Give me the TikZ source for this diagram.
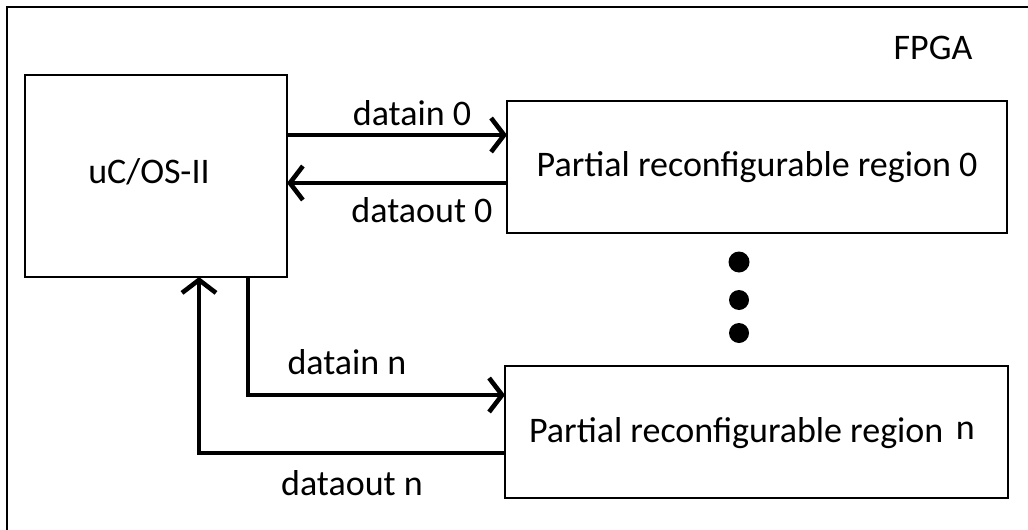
\documentclass[tikz,border=0pt]{standalone}
\usepackage{fontspec}
\setmainfont{Carlito}
\usetikzlibrary{arrows.meta}
\begin{document}
\begin{tikzpicture}[x=1pt,y=-1pt,
  every node/.style={font=\fontsize{36}{40}\selectfont, text=black},
  blockbox/.style={draw, line width=1.6pt, anchor=north west, inner sep=0pt, outer sep=0pt},
  arr/.style={line width=4.6pt, -{Straight Barb[length=13pt,width=34pt]}},
  plainline/.style={line width=4.6pt},
  lbl/.style={inner sep=0pt}]
\useasboundingbox (0,0) rectangle (1028,530);
\fill[white] (0,0) rectangle (1028,530);
% FPGA frame (cropped)
\draw[line width=2pt] (7,530) -- (7,7) -- (1028,7);
\node[lbl] (fpga) at (933,48) {FPGA};
% blocks
\node[blockbox, minimum width=262pt, minimum height=202pt] (uc) at (25,75) {};
\node[lbl] (uctext) at (149,172) {uC/OS-II};
\node[blockbox, minimum width=500pt, minimum height=132pt] (pr0) at (507,101) {};
\node[lbl] (pr0text) at (pr0.center) {Partial reconfigurable region 0};
\node[blockbox, minimum width=503pt, minimum height=132pt] (prn) at (505,366) {};
\node[lbl] (prntext) at (752,433) {Partial reconfigurable region\hspace{0.35em}\raisebox{3pt}{n}};
% dots
\fill (739,262) circle (10.5pt);
\fill (739,300) circle (10pt);
\fill (739,333) circle (10pt);
% helper coordinates
\coordinate (y1) at (0,135);
\coordinate (y2) at (0,183);
\coordinate (y3) at (0,395);
\coordinate (y4) at (0,453);
\coordinate (x3) at (248,0);
\coordinate (x4) at (199,0);
% connectors
\draw[arr] (uc.east |- y1) -- (pr0.west |- y1);
\draw[arr] (pr0.west |- y2) -- (uc.east |- y2);
\draw[arr] (uc.south -| x3) |- (prn.west |- y3);
\draw[arr] (prn.west |- y4) -| (uc.south -| x4);
% labels
\node[lbl] (l1) at (412,113) {datain 0};
\node[lbl] (l2) at (422,210) {dataout 0};
\node[lbl] (l3) at (347,362) {datain n};
\node[lbl] (l4) at (352,483) {dataout n};
\end{tikzpicture}
\end{document}
